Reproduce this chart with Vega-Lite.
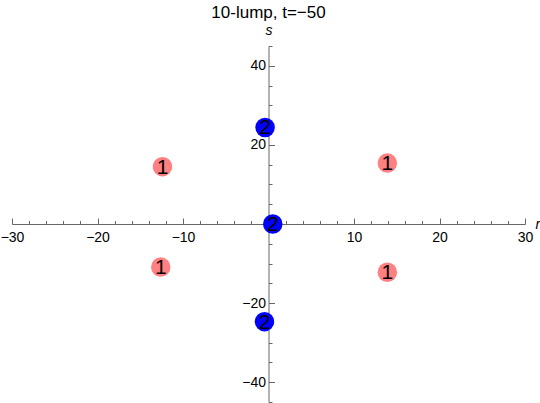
{
  "$schema": "https://vega.github.io/schema/vega-lite/v6.json",
  "autosize": "none",
  "width": 513,
  "height": 356,
  "padding": {"left": 12, "top": 46, "right": 15, "bottom": 1},
  "background": "white",
  "title": {
    "text": "10-lump, t=−50",
    "frame": "group",
    "anchor": "middle",
    "baseline": "alphabetic",
    "offset": 0,
    "dy": 12,
    "font": "Liberation Sans",
    "fontSize": 17,
    "fontWeight": "normal",
    "color": "black"
  },
  "config": {
    "view": {"stroke": null},
    "axis": {
      "grid": false,
      "labelFlush": false,
      "domainColor": "#666666",
      "tickColor": "#666666",
      "labelColor": "black",
      "labelFont": "Liberation Sans",
      "labelFontSize": 14,
      "titleFont": "Liberation Sans",
      "titleFontSize": 14,
      "titleFontWeight": "normal",
      "titleColor": "black"
    }
  },
  "data": {
    "values": [
      {"r": -0.4, "s": 24.4, "n": "2"},
      {"r": 0.5, "s": 0.0, "n": "2"},
      {"r": -0.47, "s": -24.7, "n": "2"},
      {"r": -12.4, "s": 14.5, "n": "1"},
      {"r": 13.9, "s": 15.4, "n": "1"},
      {"r": -12.6, "s": -10.9, "n": "1"},
      {"r": 13.9, "s": -12.2, "n": "1"}
    ]
  },
  "resolve": {"scale": {"x": "shared", "y": "shared"}, "axis": {"x": "independent", "y": "independent"}},
  "layer": [
    {
      "mark": {"type": "circle", "size": 380, "opacity": 1},
      "encoding": {
        "x": {
          "field": "r", "type": "quantitative",
          "scale": {"domain": [-30, 30], "nice": false, "zero": false},
          "axis": {
            "orient": "bottom", "offset": -178,
            "values": [-30, -20, -10, 10, 20, 30],
            "tickSize": -6, "labelPadding": 12, "labelFlush": false,
            "title": "r", "titleFontStyle": "italic", "titleAngle": 0,
            "titleX": 523, "titleY": 0, "titleAlign": "left", "titleBaseline": "middle"
          }
        },
        "y": {
          "field": "s", "type": "quantitative",
          "scale": {"domain": [-45, 45], "nice": false, "zero": false},
          "axis": {
            "orient": "left", "offset": -256.5,
            "values": [-40, -20, 20, 40],
            "tickSize": -6, "labelPadding": 9, "labelFlush": false,
            "title": "s", "titleFontStyle": "italic", "titleAngle": 0,
            "titleX": 0, "titleY": -12, "titleAlign": "center", "titleBaseline": "alphabetic"
          }
        },
        "color": {
          "field": "n", "type": "nominal",
          "scale": {"domain": ["1", "2"], "range": ["#ff8080", "#0000ff"]},
          "legend": null
        }
      }
    },
    {
      "mark": {"type": "text", "font": "Liberation Sans", "fontSize": 21, "baseline": "middle", "align": "center", "dy": 1, "color": "black"},
      "encoding": {
        "x": {
          "field": "r", "type": "quantitative",
          "axis": {
            "orient": "bottom", "offset": -178,
            "values": [-28, -26, -24, -22, -18, -16, -14, -12, -8, -6, -4, -2, 2, 4, 6, 8, 12, 14, 16, 18, 22, 24, 26, 28],
            "tickSize": -3.5, "labels": false, "domain": false, "title": null
          }
        },
        "y": {
          "field": "s", "type": "quantitative",
          "axis": {
            "orient": "left", "offset": -256.5,
            "values": [-45, -35, -30, -25, -15, -10, -5, 5, 10, 15, 25, 30, 35, 45],
            "tickSize": -3.5, "labels": false, "domain": false, "title": null
          }
        },
        "text": {"field": "n"}
      }
    }
  ]
}
